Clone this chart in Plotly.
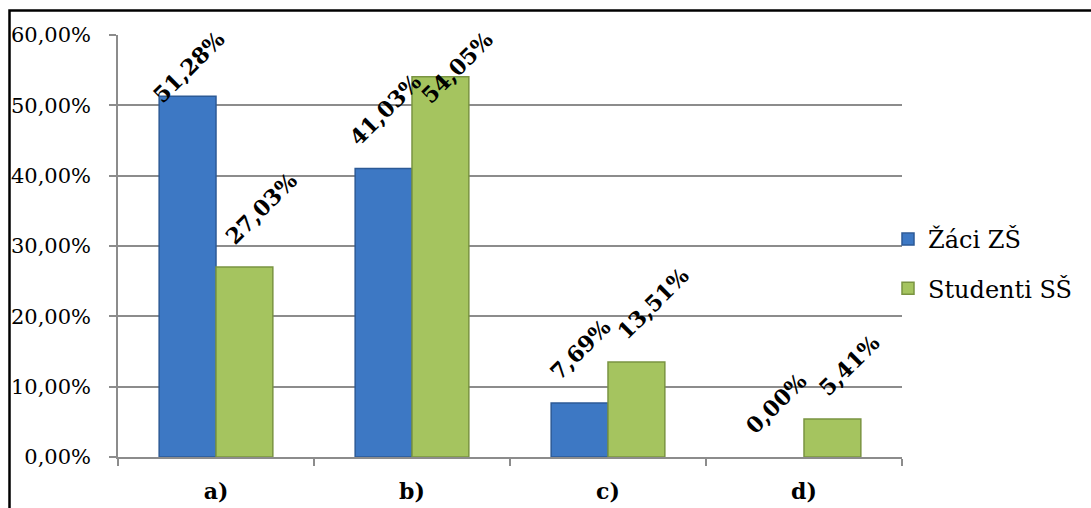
import plotly.graph_objects as go

# Survey answers: share of respondents per option
categories = ["a)", "b)", "c)", "d)"]
zaci_zs = [0.5128, 0.4103, 0.0769, 0.0000]
studenti_ss = [0.2703, 0.5405, 0.1351, 0.0541]
series_names = ["Žáci ZŠ", "Studenti SŠ"]

W, H = 1091, 508
PL, PR, PT, PB = 118, 902, 35, 457
Y_MAX = 0.6
FONT = "DejaVu Serif"

BLUE, BLUE_EDGE = "#3d78c4", "#2c5a96"
GREEN, GREEN_EDGE = "#a5c45f", "#7a9441"


def edge_widths(values):
    return [1.5 if v > 0 else 0 for v in values]


fig = go.Figure()
fig.add_trace(go.Bar(
    x=categories, y=zaci_zs, name=series_names[0], legendgroup="g1",
    marker=dict(color=BLUE, line=dict(color=BLUE_EDGE, width=edge_widths(zaci_zs))),
))
fig.add_trace(go.Bar(
    x=categories, y=studenti_ss, name=series_names[1], legendgroup="g2",
    marker=dict(color=GREEN, line=dict(color=GREEN_EDGE, width=edge_widths(studenti_ss))),
))

BARGAP = 0.42
plot_h = PB - PT
px_per_unit = plot_h / Y_MAX
cat_w = (PR - PL) / len(categories)
bar_w = cat_w * (1 - BARGAP) / 2

# value labels: rotated, sitting above each bar, kept inside the chart top
gap = 15 / px_per_unit
label_box = 78 / px_per_unit
top_limit = Y_MAX + (PT - 33) / px_per_unit
annotations = []
for values, offset in ((zaci_zs, -bar_w / 2 + 1), (studenti_ss, bar_w / 2 + 17)):
    for cat, v in zip(categories, values):
        ybot = min(v + gap, top_limit - label_box)
        annotations.append(dict(
            x=cat, y=ybot, xref="x", yref="y",
            text=f"<b>{v * 100:.2f}%</b>".replace(".", ","),
            textangle=-45, showarrow=False,
            xanchor="center", yanchor="bottom", xshift=offset,
            font=dict(family=FONT, size=22, color="black"),
        ))


def px_x(p):
    return (p - PL) / (PR - PL)


def px_y(p):
    return (PB - p) / plot_h


fig.update_layout(
    width=W, height=H, autosize=False,
    margin=dict(l=PL, r=W - PR, t=PT, b=H - PB, pad=0, autoexpand=False),
    paper_bgcolor="white", plot_bgcolor="white",
    separators=",.",
    barmode="group", bargap=BARGAP, bargroupgap=0,
    font=dict(family=FONT, color="black"),
    showlegend=True,
    legend=dict(
        x=px_x(888), xanchor="left", y=px_y(264), yanchor="middle",
        font=dict(family=FONT, size=24, color="black"),
        tracegroupgap=15, bgcolor="rgba(0,0,0,0)",
    ),
    annotations=annotations,
    # outer chart frame
    shapes=[dict(
        type="rect", xref="paper", yref="paper", layer="above",
        x0=px_x(9.5), x1=px_x(1100), y0=px_y(530), y1=px_y(10.5),
        line=dict(color="black", width=2.5), fillcolor="rgba(0,0,0,0)",
    )],
)

fig.update_yaxes(
    range=[0, Y_MAX], dtick=0.1, tick0=0, tickformat=".2%",
    showgrid=True, gridcolor="#8c8c8c", gridwidth=1.5,
    showline=True, linecolor="#8c8c8c", linewidth=1.5,
    ticks="outside", ticklen=7, tickcolor="#8c8c8c", tickwidth=1.5,
    ticklabelstandoff=14, automargin=False,
    tickfont=dict(family=FONT, size=21, color="black"),
    zeroline=False,
)
fig.update_xaxes(
    showline=True, linecolor="#8c8c8c", linewidth=1.5,
    ticks="outside", tickson="boundaries", ticklen=7,
    tickcolor="#8c8c8c", tickwidth=1.5,
    ticklabelstandoff=14, automargin=False,
    tickvals=categories, ticktext=[f"<b>{c}</b>" for c in categories],
    tickfont=dict(family=FONT, size=22, color="black"),
    showgrid=False, zeroline=False,
)

fig.write_html("out.html")
